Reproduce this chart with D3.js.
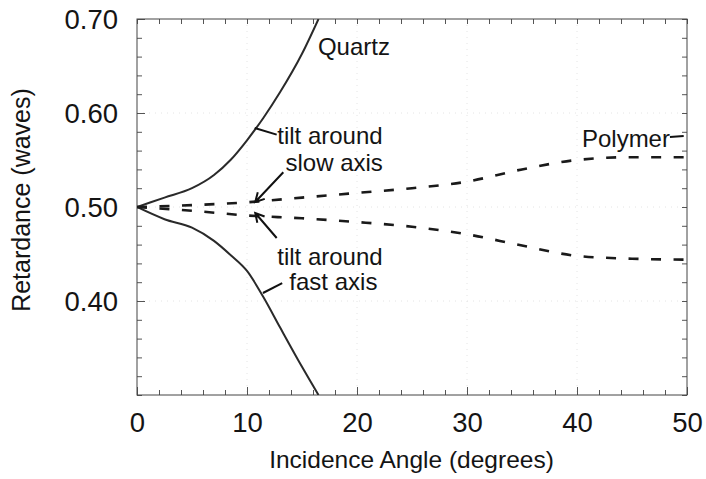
<!DOCTYPE html>
<html>
<head>
<meta charset="utf-8">
<script src="https://cdn.jsdelivr.net/npm/d3@7"></script>
<style>
  html, body { margin: 0; padding: 0; background: #fff; }
  svg { display: block; }
  text { font-family: "Liberation Sans", Arial, sans-serif; fill: #141414; }
</style>
</head>
<body>
<svg id="chart" width="706" height="479"></svg>
<script>
// ---- data ----
const quartzAngles = [0, 2.5, 5, 7, 8.5, 10, 11.5, 13, 15, 16.5];
const quartzSlow   = [0.500, 0.510, 0.520, 0.534, 0.550, 0.571, 0.595, 0.622, 0.663, 0.700];
const quartzFast   = [0.500, 0.487, 0.478, 0.464, 0.449, 0.432, 0.404, 0.372, 0.330, 0.300];

const polymerAngles = [0, 5, 10, 15, 20, 25, 30, 35, 40, 45, 50];
const polymerSlow   = [0.500, 0.502, 0.505, 0.510, 0.515, 0.520, 0.527, 0.540, 0.550, 0.553, 0.553];
const polymerFast   = [0.500, 0.496, 0.491, 0.488, 0.484, 0.479, 0.471, 0.459, 0.448, 0.445, 0.444];

const xTickValues = [0, 10, 20, 30, 40, 50];
const xTickLabels = ["0", "10", "20", "30", "40", "50"];
const yTickValues = [0.40, 0.50, 0.60, 0.70];
const yTickLabels = ["0.40", "0.50", "0.60", "0.70"];

const xTitle = "Incidence Angle (degrees)";
const yTitle = "Retardance (waves)";

(function () {
// ---- layout ----
const svg = d3.select("#chart");
const mLeft = 137, mRight = 687, mTop = 19, mBottom = 395;

const x = d3.scaleLinear().domain([0, 50]).range([mLeft, mRight]);
const y = d3.scaleLinear().domain([0.30, 0.70]).range([mBottom, mTop]);

const ink = "#2a2a2a";

// faint grid (scan remnants)
const grid = svg.append("g").attr("stroke", "#e4e4e4").attr("stroke-width", 1).attr("stroke-dasharray", "1,5");
grid.selectAll("line.h").data(yTickValues.slice(0, 3)).join("line")
  .attr("x1", mLeft).attr("x2", mRight).attr("y1", d => y(d)).attr("y2", d => y(d));
grid.selectAll("line.v").data(xTickValues.slice(1, 5)).join("line")
  .attr("y1", mTop).attr("y2", mBottom).attr("x1", d => x(d)).attr("x2", d => x(d));

// minor ticks (inward), all four sides
const minorY = d3.range(0.30, 0.7001, 0.02);
const minorX = d3.range(0, 50.001, 2);

function noDomain(g) { g.select(".domain").remove(); g.selectAll("line").attr("stroke", "#555"); }

svg.append("g").attr("transform", `translate(${mLeft},0)`)
  .call(d3.axisLeft(y).tickValues(minorY).tickSize(-5).tickFormat("")).call(noDomain);
svg.append("g").attr("transform", `translate(${mRight},0)`)
  .call(d3.axisRight(y).tickValues(minorY).tickSize(-5).tickFormat("")).call(noDomain);
svg.append("g").attr("transform", `translate(0,${mBottom})`)
  .call(d3.axisBottom(x).tickValues(minorX).tickSize(-5).tickFormat("")).call(noDomain);
svg.append("g").attr("transform", `translate(0,${mTop})`)
  .call(d3.axisTop(x).tickValues(minorX).tickSize(-5).tickFormat("")).call(noDomain);

// major ticks with labels
const yAxis = svg.append("g").attr("transform", `translate(${mLeft},0)`)
  .call(d3.axisLeft(y).tickValues(yTickValues).tickSize(-8).tickPadding(19)
    .tickFormat((d, i) => yTickLabels[i]));
yAxis.call(noDomain);
yAxis.selectAll("text").attr("font-size", 27.5).attr("font-family", "Liberation Sans, Arial, sans-serif")
  .attr("fill", "#141414").attr("dy", "0.36em");

const xAxis = svg.append("g").attr("transform", `translate(0,${mBottom})`)
  .call(d3.axisBottom(x).tickValues(xTickValues).tickSize(-8).tickPadding(17)
    .tickFormat((d, i) => xTickLabels[i]));
xAxis.call(noDomain);
xAxis.selectAll("text").attr("font-size", 27.5).attr("font-family", "Liberation Sans, Arial, sans-serif")
  .attr("fill", "#141414");

// frame
svg.append("rect").attr("x", mLeft).attr("y", mTop).attr("width", mRight - mLeft).attr("height", mBottom - mTop)
  .attr("fill", "none").attr("stroke", "#444").attr("stroke-width", 1);

// axis titles
svg.append("text").attr("x", (mLeft + mRight) / 2 - 0.5).attr("y", 468)
  .attr("text-anchor", "middle").attr("font-size", 24.5).text(xTitle);
svg.append("text").attr("transform", `translate(30,${(mTop + mBottom) / 2 - 7}) rotate(-90)`)
  .attr("text-anchor", "middle").attr("font-size", 25).text(yTitle);

// ---- curves ----
svg.append("clipPath").attr("id", "plotclip").append("rect")
  .attr("x", mLeft).attr("y", mTop).attr("width", mRight - mLeft).attr("height", mBottom - mTop);
const plot = svg.append("g").attr("clip-path", "url(#plotclip)");

const line = d3.line().x(d => x(d[0])).y(d => y(d[1])).curve(d3.curveMonotoneX);

function series(angles, vals) { return angles.map((a, i) => [a, vals[i]]); }

plot.append("path").datum(series(quartzAngles, quartzSlow)).attr("d", line)
  .attr("fill", "none").attr("stroke", ink).attr("stroke-width", 2);
plot.append("path").datum(series(quartzAngles, quartzFast)).attr("d", line)
  .attr("fill", "none").attr("stroke", ink).attr("stroke-width", 2);
plot.append("path").datum(series(polymerAngles, polymerSlow)).attr("d", line)
  .attr("fill", "none").attr("stroke", "#1a1a1a").attr("stroke-width", 2.6).attr("stroke-dasharray", "10,12.5");
plot.append("path").datum(series(polymerAngles, polymerFast)).attr("d", line)
  .attr("fill", "none").attr("stroke", "#1a1a1a").attr("stroke-width", 2.6).attr("stroke-dasharray", "10,12.5");

// ---- annotations ----
const ann = svg.append("g");
function label(txt, a, v) {
  ann.append("text").attr("x", x(a)).attr("y", y(v)).attr("font-size", 24).text(txt);
}
label("Quartz", 16.45, 0.6617);
label("tilt around", 12.75, 0.5670);
label("slow axis", 13.5, 0.5383);
label("tilt around", 12.75, 0.4383);
label("fast axis", 13.85, 0.4117);
label("Polymer", 40.45, 0.5638);

function seg(a1, v1, a2, v2) {
  ann.append("line").attr("x1", x(a1)).attr("y1", y(v1)).attr("x2", x(a2)).attr("y2", y(v2))
    .attr("stroke", "#111").attr("stroke-width", 2);
}
function arrow(aTail, vTail, aTip, vTip) {
  const x1 = x(aTail), y1 = y(vTail), x2 = x(aTip), y2 = y(vTip);
  const ang = Math.atan2(y2 - y1, x2 - x1);
  const L = 10, w = 0.5;
  ann.append("path")
    .attr("d", `M${x1},${y1}L${x2},${y2}M${x2 - L * Math.cos(ang - w)},${y2 - L * Math.sin(ang - w)}L${x2},${y2}L${x2 - L * Math.cos(ang + w)},${y2 - L * Math.sin(ang + w)}`)
    .attr("fill", "none").attr("stroke", "#111").attr("stroke-width", 2);
}
seg(10.7, 0.584, 12.7, 0.577);
seg(11.45, 0.4085, 13.2, 0.419);
seg(48.45, 0.5745, 49.7, 0.5755);
arrow(13.3, 0.537, 10.75, 0.5053);
arrow(12.7, 0.467, 10.75, 0.4936);
})();
</script>
</body>
</html>
